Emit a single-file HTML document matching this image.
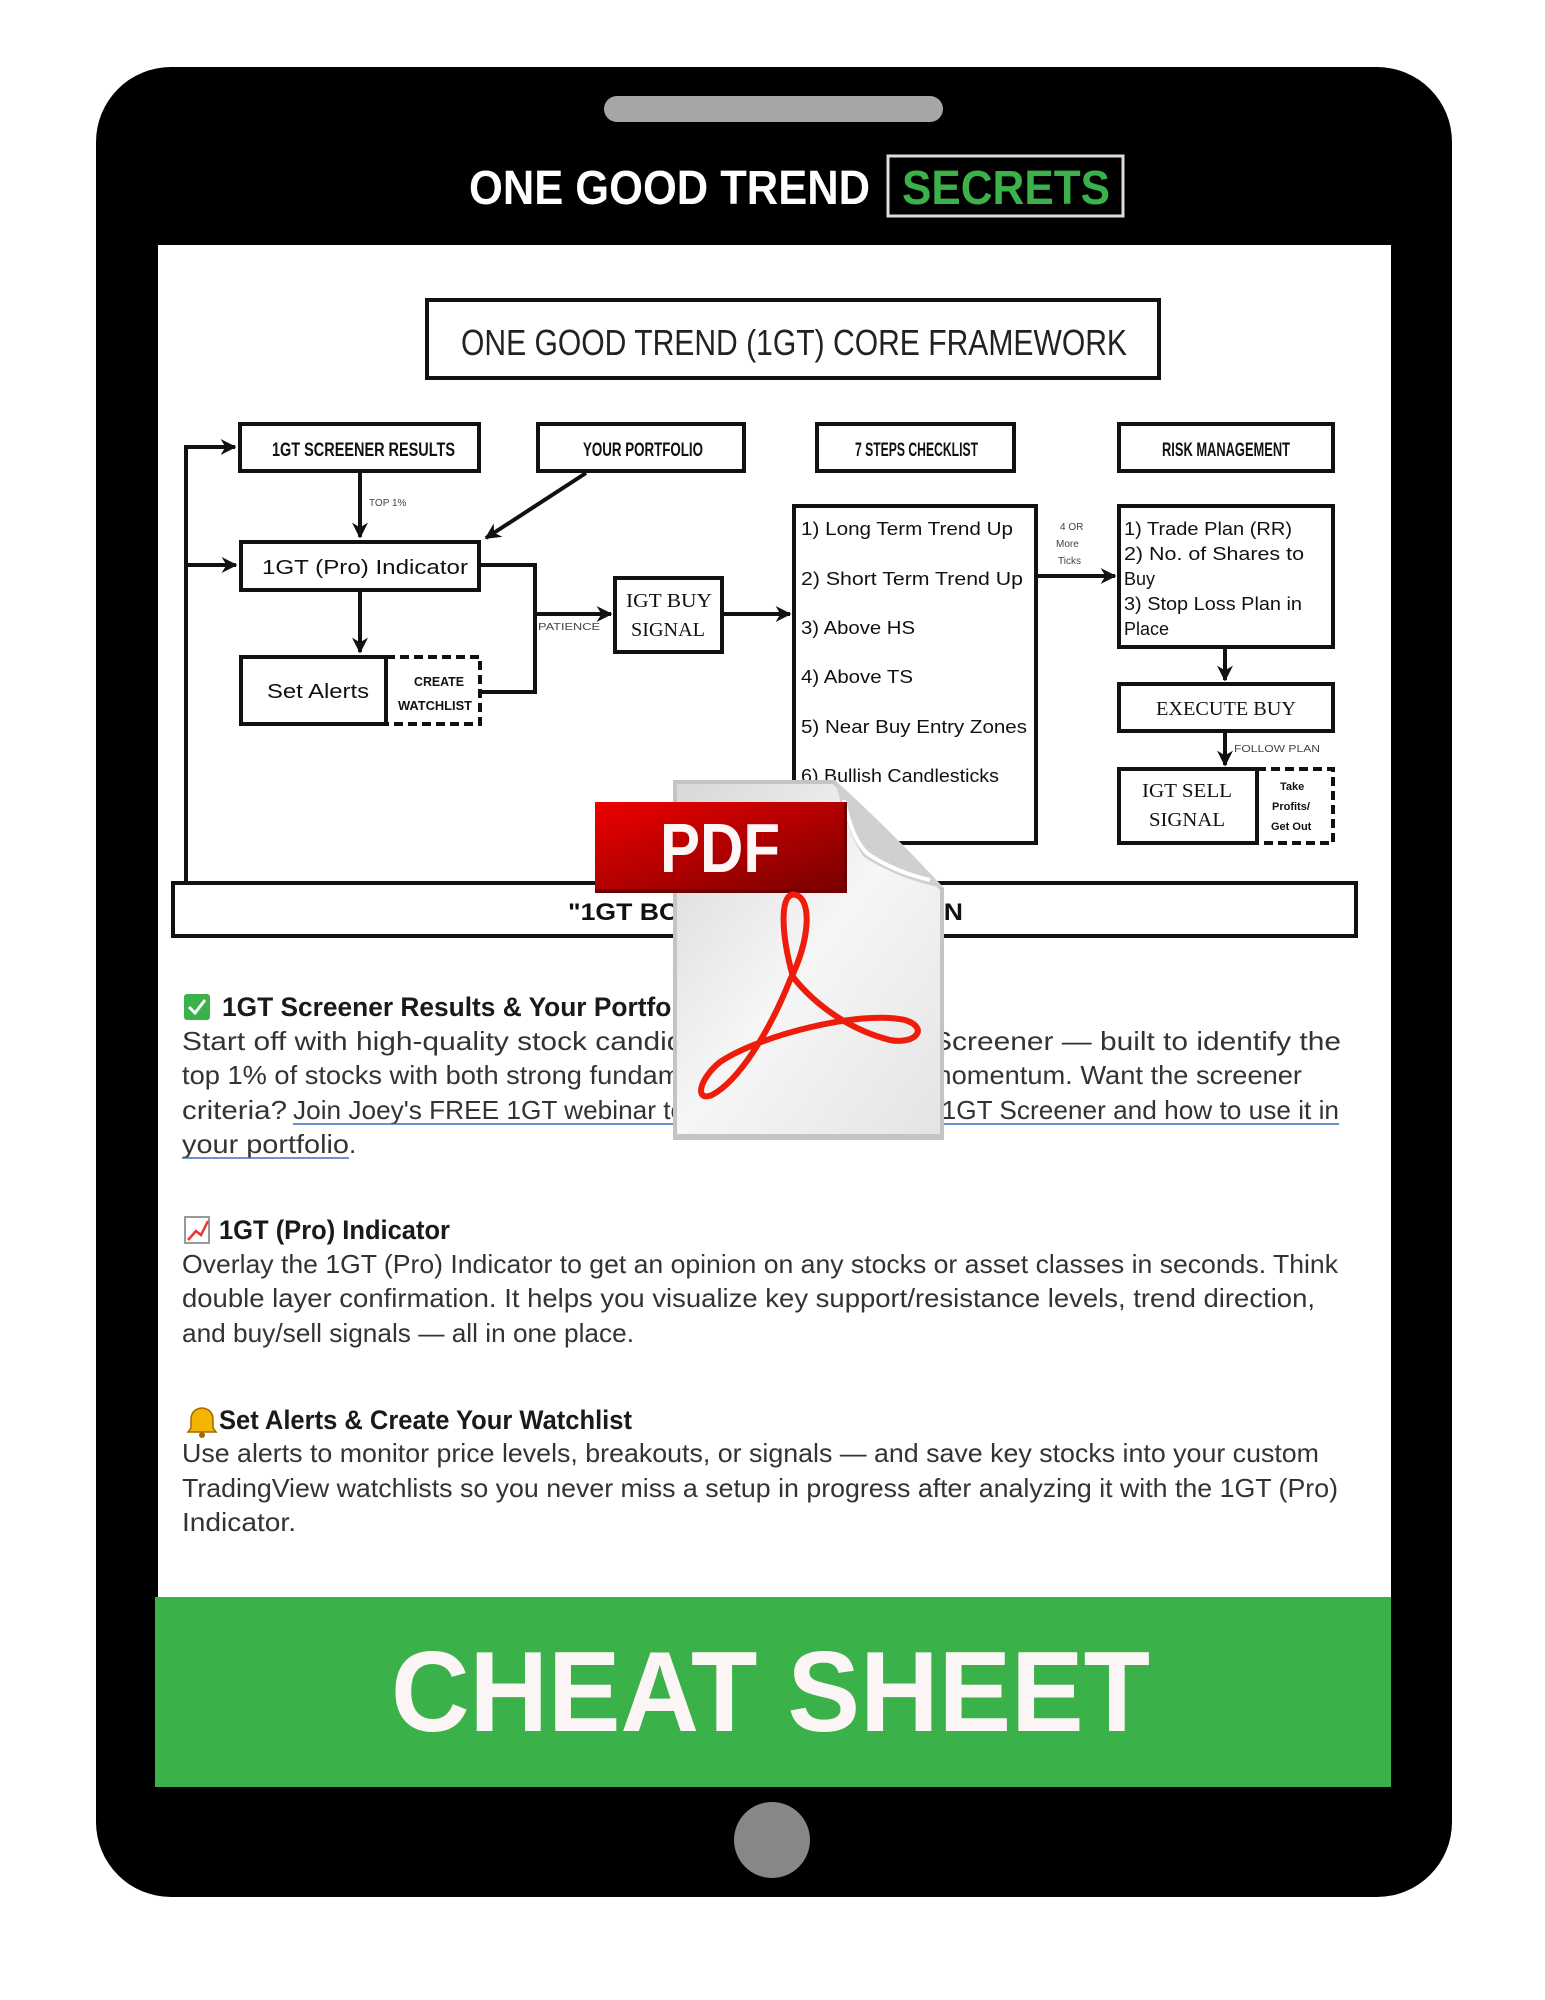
<!DOCTYPE html>
<html><head><meta charset="utf-8"><style>
html,body{margin:0;padding:0;background:#fff;}
svg{display:block;}
.d{font-family:"Liberation Sans",sans-serif;font-weight:bold;fill:#111;}
.p{font-family:"Liberation Sans",sans-serif;fill:#333;font-size:26px;}
.h{font-family:"Liberation Sans",sans-serif;font-weight:bold;fill:#1a1a1a;font-size:27px;}
</style></head><body>
<svg width="1545" height="2000" viewBox="0 0 1545 2000" xmlns="http://www.w3.org/2000/svg">
<defs>
<marker id="ar" viewBox="0 0 10 10" refX="9" refY="5" markerWidth="4" markerHeight="4" orient="auto"><path d="M0,0 L10,5 L0,10 L3,5z" fill="#111"/></marker>
<linearGradient id="pg" x1="0" y1="0" x2="1" y2="1"><stop offset="0" stop-color="#d8d8d8"/><stop offset="0.5" stop-color="#f6f6f6"/><stop offset="1" stop-color="#e4e4e4"/></linearGradient>
<linearGradient id="rb" x1="0" y1="0" x2="1" y2="1"><stop offset="0" stop-color="#ee0000"/><stop offset="1" stop-color="#7a0000"/></linearGradient>
</defs>
<!-- tablet -->
<rect x="96" y="67" width="1356" height="1830" rx="75" fill="#000"/>
<rect x="604" y="96" width="339" height="26" rx="13" fill="#a6a6a6"/>
<circle cx="772" cy="1840" r="38" fill="#878787"/>
<rect x="158" y="138" width="1233" height="1459" fill="#fff"/>
<rect x="158" y="138" width="1233" height="107" fill="#000"/>
<text x="469" y="204" font-family="Liberation Sans,sans-serif" font-weight="bold" font-size="48" fill="#fff" textLength="401" lengthAdjust="spacingAndGlyphs">ONE GOOD TREND</text>
<rect x="888" y="156" width="235" height="60" fill="#000" stroke="#ddd" stroke-width="3"/>
<text x="902" y="204" font-family="Liberation Sans,sans-serif" font-weight="bold" font-size="48" fill="#3bb14a" textLength="208" lengthAdjust="spacingAndGlyphs">SECRETS</text>
<rect x="155" y="1597" width="1236" height="190" fill="#3bb14a"/>
<text x="391" y="1731" font-family="Liberation Sans,sans-serif" font-weight="bold" font-size="114" fill="#fbf5f5" textLength="759" lengthAdjust="spacingAndGlyphs">CHEAT SHEET</text>

<!-- diagram -->
<g fill="none" stroke="#111" stroke-width="4">
<rect x="427" y="300" width="732" height="78"/>
<rect x="240" y="424" width="239" height="47"/>
<rect x="538" y="424" width="206" height="47"/>
<rect x="817" y="424" width="197" height="47"/>
<rect x="1119" y="424" width="214" height="47"/>
<rect x="241" y="542" width="238" height="48"/>
<rect x="241" y="657" width="145" height="67"/>
<rect x="386" y="657" width="94" height="67" stroke-dasharray="9,5"/>
<rect x="615" y="578" width="107" height="74"/>
<rect x="794" y="506" width="242" height="337"/>
<rect x="1119" y="506" width="214" height="141"/>
<rect x="1119" y="684" width="214" height="47"/>
<rect x="1119" y="769" width="138" height="74"/>
<rect x="1257" y="769" width="76" height="74" stroke-dasharray="9,5"/>
<rect x="173" y="883" width="1183" height="53"/>
<polyline points="175,883 186,883 186,447 235,447" marker-end="url(#ar)"/>
<line x1="186" y1="565" x2="236" y2="565" marker-end="url(#ar)"/>
<line x1="360" y1="471" x2="360" y2="537" marker-end="url(#ar)"/>
<line x1="586" y1="473" x2="486" y2="538" marker-end="url(#ar)"/>
<line x1="360" y1="590" x2="360" y2="652" marker-end="url(#ar)"/>
<polyline points="479,565 535,565 535,692 480,692"/>
<line x1="535" y1="614" x2="611" y2="614" marker-end="url(#ar)"/>
<line x1="722" y1="614" x2="790" y2="614" marker-end="url(#ar)"/>
<line x1="1036" y1="576" x2="1115" y2="576" marker-end="url(#ar)"/>
<line x1="1225" y1="647" x2="1225" y2="680" marker-end="url(#ar)"/>
<line x1="1225" y1="731" x2="1225" y2="765" marker-end="url(#ar)"/>
</g>
<text x="461" y="355" font-family="Liberation Sans,sans-serif" font-size="36" fill="#222" textLength="666" lengthAdjust="spacingAndGlyphs">ONE GOOD TREND (1GT) CORE FRAMEWORK</text>
<g class="d" font-size="19">
<text x="272" y="456" textLength="183" lengthAdjust="spacingAndGlyphs">1GT SCREENER RESULTS</text>
<text x="583" y="456" textLength="120" lengthAdjust="spacingAndGlyphs">YOUR PORTFOLIO</text>
<text x="855" y="456" textLength="123" lengthAdjust="spacingAndGlyphs">7 STEPS CHECKLIST</text>
<text x="1162" y="456" textLength="128" lengthAdjust="spacingAndGlyphs">RISK MANAGEMENT</text>
</g>
<g font-family="Liberation Sans,sans-serif" fill="#111" font-size="20">
<text x="262" y="574" textLength="206" lengthAdjust="spacingAndGlyphs">1GT (Pro) Indicator</text>
<text x="267" y="698" textLength="102" lengthAdjust="spacingAndGlyphs">Set Alerts</text>
<text x="414" y="686" font-size="13" font-weight="bold" textLength="50" lengthAdjust="spacingAndGlyphs">CREATE</text>
<text x="398" y="710" font-size="13" font-weight="bold" textLength="74" lengthAdjust="spacingAndGlyphs">WATCHLIST</text>
<text x="626" y="607" font-family="Liberation Serif,serif" textLength="86" lengthAdjust="spacingAndGlyphs">IGT BUY</text>
<text x="631" y="636" font-family="Liberation Serif,serif" textLength="74" lengthAdjust="spacingAndGlyphs">SIGNAL</text>
<g font-size="18">
<text x="801" y="535" textLength="212" lengthAdjust="spacingAndGlyphs">1) Long Term Trend Up</text>
<text x="801" y="585" textLength="222" lengthAdjust="spacingAndGlyphs">2) Short Term Trend Up</text>
<text x="801" y="634" textLength="114" lengthAdjust="spacingAndGlyphs">3) Above HS</text>
<text x="801" y="683" textLength="112" lengthAdjust="spacingAndGlyphs">4) Above TS</text>
<text x="801" y="733" textLength="226" lengthAdjust="spacingAndGlyphs">5) Near Buy Entry Zones</text>
<text x="801" y="782" textLength="198" lengthAdjust="spacingAndGlyphs">6) Bullish Candlesticks</text>
<text x="1124" y="535" textLength="168" lengthAdjust="spacingAndGlyphs">1) Trade Plan (RR)</text>
<text x="1124" y="560" textLength="180" lengthAdjust="spacingAndGlyphs">2) No. of Shares to</text>
<text x="1124" y="585">Buy</text>
<text x="1124" y="610" textLength="178" lengthAdjust="spacingAndGlyphs">3) Stop Loss Plan in</text>
<text x="1124" y="635">Place</text>
</g>
<text x="1156" y="715" font-family="Liberation Serif,serif" textLength="140" lengthAdjust="spacingAndGlyphs">EXECUTE BUY</text>
<text x="1142" y="797" font-family="Liberation Serif,serif" textLength="90" lengthAdjust="spacingAndGlyphs">IGT SELL</text>
<text x="1149" y="826" font-family="Liberation Serif,serif" textLength="76" lengthAdjust="spacingAndGlyphs">SIGNAL</text>
<g font-size="11" font-weight="bold">
<text x="1280" y="790">Take</text>
<text x="1272" y="810">Profits/</text>
<text x="1271" y="830">Get Out</text>
</g>
<g font-size="10" fill="#444">
<text x="369" y="506">TOP 1%</text>
<text x="538" y="630" textLength="62" lengthAdjust="spacingAndGlyphs">PATIENCE</text>
<text x="1060" y="530">4 OR</text>
<text x="1056" y="547">More</text>
<text x="1058" y="564">Ticks</text>
<text x="1234" y="752" textLength="86" lengthAdjust="spacingAndGlyphs">FOLLOW PLAN</text>
</g>
<text x="568" y="920" font-size="24" font-weight="bold" textLength="395" lengthAdjust="spacingAndGlyphs">"1GT BOOKMARK YOUR PLAN</text>
</g>

<!-- text section -->
<rect x="184" y="994" width="26" height="26" rx="3" fill="#3bb14a"/>
<path d="M189,1007 l6,6 l10,-13" stroke="#fff" stroke-width="3" fill="none"/>
<text class="h" x="222" y="1016" textLength="480" lengthAdjust="spacingAndGlyphs">1GT Screener Results &amp; Your Portfolio</text>
<text class="p" x="182" y="1050" textLength="1159" lengthAdjust="spacingAndGlyphs">Start off with high-quality stock candidates from the 1GT Screener — built to identify the</text>
<text class="p" x="182" y="1084" textLength="1120" lengthAdjust="spacingAndGlyphs">top 1% of stocks with both strong fundamentals and technical momentum. Want the screener</text>
<text class="p" x="182" y="1119" textLength="105" lengthAdjust="spacingAndGlyphs">criteria?</text>
<text class="p" x="293" y="1119" fill="#3a6fc4" textLength="1046" lengthAdjust="spacingAndGlyphs">Join Joey's FREE 1GT webinar to learn more about the 1GT Screener and how to use it in</text>
<text class="p" x="182" y="1153" fill="#3a6fc4" textLength="167" lengthAdjust="spacingAndGlyphs">your portfolio</text>
<text class="p" x="349" y="1153">.</text>
<line x1="293" y1="1124" x2="1339" y2="1124" stroke="#3a6fc4" stroke-width="1.5"/>
<line x1="182" y1="1158" x2="349" y2="1158" stroke="#3a6fc4" stroke-width="1.5"/>

<rect x="185" y="1217" width="24" height="26" fill="#fff" stroke="#999" stroke-width="2"/>
<path d="M188,1240 l8,-9 l5,4 l7,-14" stroke="#e33" stroke-width="2.5" fill="none"/>
<text class="h" x="219" y="1239" textLength="231" lengthAdjust="spacingAndGlyphs">1GT (Pro) Indicator</text>
<text class="p" x="182" y="1273" textLength="1156" lengthAdjust="spacingAndGlyphs">Overlay the 1GT (Pro) Indicator to get an opinion on any stocks or asset classes in seconds. Think</text>
<text class="p" x="182" y="1307" textLength="1133" lengthAdjust="spacingAndGlyphs">double layer confirmation. It helps you visualize key support/resistance levels, trend direction,</text>
<text class="p" x="182" y="1342" textLength="452" lengthAdjust="spacingAndGlyphs">and buy/sell signals — all in one place.</text>

<path d="M188,1432 l3,-4 l0,-8 q0,-11 11,-12 q11,1 11,12 l0,8 l3,4z" fill="#f4b400" stroke="#a06a00" stroke-width="1.5"/>
<circle cx="202" cy="1435" r="3" fill="#a06a00"/>
<text class="h" x="219" y="1429" textLength="413" lengthAdjust="spacingAndGlyphs">Set Alerts &amp; Create Your Watchlist</text>
<text class="p" x="182" y="1462" textLength="1137" lengthAdjust="spacingAndGlyphs">Use alerts to monitor price levels, breakouts, or signals — and save key stocks into your custom</text>
<text class="p" x="182" y="1497" textLength="1156" lengthAdjust="spacingAndGlyphs">TradingView watchlists so you never miss a setup in progress after analyzing it with the 1GT (Pro)</text>
<text class="p" x="182" y="1531" textLength="114" lengthAdjust="spacingAndGlyphs">Indicator.</text>

<!-- PDF icon -->
<path d="M673,780 L835,780 L944,888 L944,1140 L673,1140 Z" fill="#c4c4c4"/>
<path d="M677,784 L833,784 L940,890 L940,1134 L677,1134 Z" fill="url(#pg)"/>
<path d="M835,780 Q848,836 864,857 Q900,880 944,888 Q890,830 835,780Z" fill="#d0d0d0"/>
<path d="M844,800 Q852,840 868,854 Q895,872 930,880" fill="none" stroke="#fff" stroke-width="4"/>
<rect x="595" y="802" width="252" height="91" fill="#700000"/>
<rect x="595" y="802" width="249" height="87" fill="url(#rb)"/>
<text x="660" y="872" font-family="Liberation Sans,sans-serif" font-weight="bold" font-size="70" fill="#fdf7f7" textLength="120" lengthAdjust="spacingAndGlyphs">PDF</text>
<g fill="none" stroke="#ee1c0a" stroke-width="6" stroke-linecap="round">
<path d="M793,977 C780,930 780,890 796,895 C812,900 810,940 790,980 C770,1030 740,1080 712,1095 C695,1102 698,1080 720,1062 C760,1035 860,1010 905,1020 C930,1028 915,1045 890,1040 C850,1030 815,1005 793,977"/>
</g>
</svg>
</body></html>
